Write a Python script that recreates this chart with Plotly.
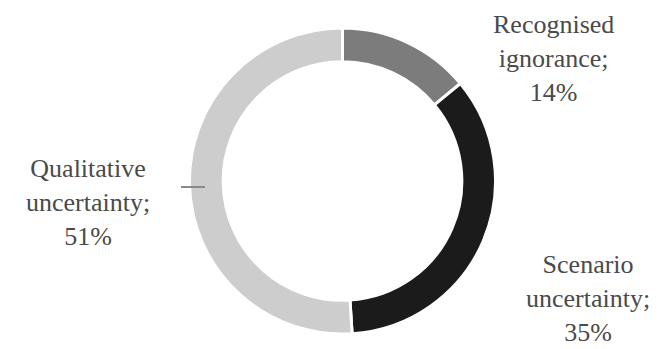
import plotly.graph_objects as go

# Share of each uncertainty type
labels = ["Recognised ignorance", "Scenario uncertainty", "Qualitative uncertainty"]
values = [14, 35, 51]
colors = ["#7c7c7c", "#1b1b1b", "#cdcdcd"]

# Label placement (pixel centres in a 665x349 canvas)
W, H = 665, 349
label_pos = [(553, 58), (588, 298), (88, 203)]

fig = go.Figure(go.Pie(
    labels=labels,
    values=values,
    sort=False,
    direction="clockwise",
    rotation=0,
    hole=0.78,
    marker=dict(colors=colors, line=dict(color="white", width=3)),
    textinfo="none",
    hoverinfo="label+percent",
    showlegend=False,
    domain=dict(x=[(342.5 - 153) / W, (342.5 + 153) / W],
                y=[(H - 181 - 153) / H, (H - 181 + 153) / H]),
))

for lab, val, (px, py) in zip(labels, values, label_pos):
    words = lab.split(" ")
    text = "<br>".join(words[:-1] + [words[-1] + ";", f"{val}%"])
    fig.add_annotation(
        x=px / W, y=1 - py / H, xref="paper", yref="paper",
        xanchor="center", yanchor="middle", showarrow=False,
        text=text, align="center",
        font=dict(family="Liberation Serif, Times New Roman, serif",
                  size=26, color="#4a4a4a"),
    )

# Short leader line beside the largest slice's label
fig.add_shape(type="line", xref="paper", yref="paper",
              x0=181 / W, x1=205 / W, y0=1 - 187 / H, y1=1 - 187 / H,
              line=dict(color="#8a8a8a", width=2))

fig.update_layout(
    width=W, height=H,
    margin=dict(l=0, r=0, t=0, b=0),
    paper_bgcolor="white", plot_bgcolor="white",
)

fig.write_html("out.html")
